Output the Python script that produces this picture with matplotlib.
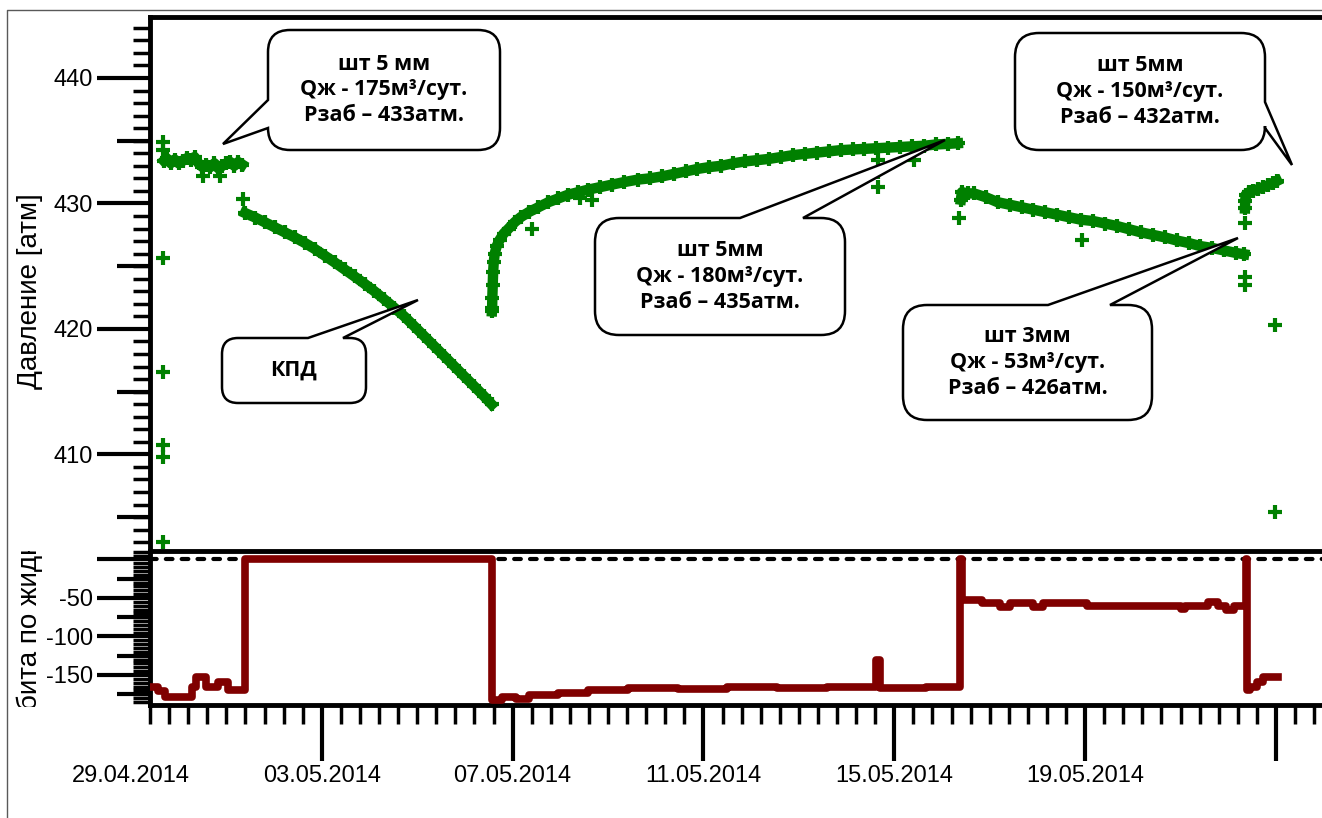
import numpy as np
import matplotlib
matplotlib.use("Agg")
import matplotlib.pyplot as plt
import matplotlib.dates as mdates
import matplotlib.ticker as mticker
import matplotlib.transforms as mtransforms
from matplotlib.path import Path
from matplotlib.patches import PathPatch
from datetime import datetime

plt.rcParams['font.family'] = ['Liberation Sans', 'DejaVu Sans']

# --- данные: время в часах от 29.04.2014 00:00 ---
flow1_h = [16.6, 18, 20, 22, 24, 26, 28, 30, 32, 34, 36, 38, 40, 42, 44, 46, 48, 50, 52, 54, 56]
flow1_p = [433.4, 433.6, 433.2, 433.5, 433.2, 433.4, 433.6, 433.5, 433.7, 433.2, 432.9,
           433.1, 432.9, 433.2, 432.8, 433.0, 433.2, 433.3, 433.0, 433.3, 433.1]

fall_h = [57.4, 62.5, 67.5, 72.5, 77.5, 82.5, 87.5, 92.5, 97.5, 102.5, 107.5, 112.5, 117.5,
          122.5, 127.5, 132.5, 137.5, 142.5, 147.5, 152.5, 157.5, 162.5, 167.5, 172.5, 177.5, 181.5]
fall_p = [429.24, 428.88, 428.49, 428.09, 427.69, 427.29, 426.85, 426.37, 425.84, 425.30,
          424.74, 424.18, 423.60, 423.00, 422.35, 421.69, 421.00, 420.22, 419.43, 418.64,
          417.85, 417.05, 416.25, 415.46, 414.66, 413.98]

kvd_h = [181.6, 181.7, 181.8, 182.0, 182.2, 182.5, 183.0, 184.0, 185.5, 187.5,
         190, 193, 196, 200, 205, 210, 215, 220, 225, 230,
         236, 242, 248, 255, 261, 267, 273, 279, 285, 291,
         297, 303, 309, 315, 321, 327, 333, 339, 345, 351,
         357, 363, 369, 375, 381, 387, 393, 399, 405, 411, 416]
kvd_p = [421.4, 421.7, 422.5, 423.5, 424.5, 425.3, 426.0, 426.6, 427.1, 427.6,
         428.0, 428.5, 428.9, 429.3, 429.7, 430.1, 430.4, 430.7, 430.9, 431.1,
         431.3, 431.5, 431.7, 431.9, 432.0, 432.15, 432.35, 432.55, 432.75, 432.9,
         433.0, 433.2, 433.35, 433.45, 433.55, 433.7, 433.85, 433.95, 434.05, 434.15,
         434.25, 434.3, 434.35, 434.4, 434.45, 434.5, 434.55, 434.6, 434.7, 434.75, 434.8]

flow2_h = [417.5, 418, 421, 424, 430, 436, 442, 448, 454, 460, 466, 472, 478, 484,
           490, 496, 502, 508, 514, 520, 526, 532, 538, 544, 550, 556, 560]
flow2_p = [430.3, 430.9, 430.8, 430.8, 430.5, 430.1, 429.9, 429.7, 429.5, 429.3, 429.1,
           428.9, 428.7, 428.6, 428.4, 428.2, 427.95, 427.7, 427.5, 427.3, 427.05, 426.85,
           426.6, 426.45, 426.25, 426.05, 425.95]

flow3_h = [560.4, 560.5, 560.8, 562.5, 564.5, 567, 569.5, 572, 574.5, 576.5]
flow3_p = [429.6, 430.2, 430.7, 430.9, 431.0, 431.15, 431.3, 431.45, 431.65, 431.8]

spike_h = [16.0, 16.0, 16.0, 16.0, 16.0, 16.0, 16.0, 36.3, 44.8, 56.2, 201.6, 226, 231.9,
           375.8, 375.8, 375.8, 393.7, 416.7, 478.3, 560.6, 560.6, 560.6, 575.5, 575.5]
spike_p = [402.98, 409.78, 410.76, 416.55, 425.63, 434.92, 434.26, 432.2, 432.2, 430.33,
           428.0, 430.4, 430.3, 433.5, 432.5, 431.3, 433.5, 428.85, 427.1, 423.5, 424.1,
           428.45, 420.3, 405.4]

rate_h = [9.6, 13.4, 17.2, 30.7, 32.7, 38.0, 44.0, 49.0, 57.4,
          181.5, 186.8, 193.5, 200, 215, 230, 250, 275, 300, 325,
          350, 375, 377, 400, 416.8, 418.0, 428, 437.2, 442.2, 454,
          459, 481, 528, 530, 542, 547, 551, 555, 560.9, 561.4,
          562.9, 566.2, 569.4, 577]
rate_v = [-166, -171, -179, -165, -152, -165, -159, -169, 0,
          -182, -178, -181, -176, -173, -170, -167, -168, -166, -167,
          -166, -130, -167, -166, 0, -53, -57, -62, -57, -62,
          -57, -61, -64, -61, -55, -61, -65, -61, 0, -169,
          -165, -159, -152, -152]

date_ticks = ['2014-04-29', '2014-05-03', '2014-05-07', '2014-05-11',
              '2014-05-15', '2014-05-19', '2014-05-23']
date_labels = ['29.04.2014', '03.05.2014', '07.05.2014', '11.05.2014',
               '15.05.2014', '19.05.2014', '']

notes = [
    "шт 5 мм\nQж - 175м³/сут.\nРзаб – 433атм.",
    "КПД",
    "шт 5мм\nQж - 180м³/сут.\nРзаб – 435атм.",
    "шт 3мм\nQж - 53м³/сут.\nРзаб – 426атм.",
    "шт 5мм\nQж - 150м³/сут.\nРзаб – 432атм.",
]

d0 = mdates.date2num(datetime(2014, 4, 29))


def hx(h):
    return d0 + np.asarray(h, dtype=float) / 24.0


W, H = 1322, 818
fig = plt.figure(figsize=(W / 100, H / 100), dpi=100)


def px_axes(l, t, r, b):
    return fig.add_axes([l / W, 1 - b / H, (r - l) / W, (b - t) / H])


ax1 = px_axes(150, 17, 1340, 551)
ax2 = px_axes(150, 551, 1340, 705)
ax2.patch.set_visible(False)

green = '#008000'
mk = dict(marker='+', ms=10, mew=3, color=green)
for hh, pp in [(flow1_h, flow1_p), (fall_h, fall_p), (kvd_h, kvd_p),
               (flow2_h, flow2_p), (flow3_h, flow3_p)]:
    ax1.plot(hx(hh), pp, lw=7.5, **mk)
ax1.plot(hx(spike_h), spike_p, ls='none', **mk)

ax2.axhline(0, color='black', lw=3, ls=(0, (1.6, 2.2)), dash_capstyle='round', zorder=1)
ax2.plot(hx(rate_h), rate_v, drawstyle='steps-post', color='#800000', lw=5.5, zorder=3)

xlim = (hx(9.6), hx(608.2))
for ax in (ax1, ax2):
    ax.set_xlim(*xlim)
    ax.spines['right'].set_visible(False)
    for s in ('left', 'bottom', 'top'):
        ax.spines[s].set_linewidth(3.5)
ax2.spines['top'].set_visible(False)

# верхняя шкала
ax1.set_ylim(402.3, 444.86)
ax1.yaxis.set_major_locator(mticker.FixedLocator([410, 420, 430, 440]))
ax1.yaxis.set_minor_locator(mticker.MultipleLocator(1))
ax1.tick_params(axis='y', which='major', length=38, width=3, labelsize=17, pad=3)
ax1.tick_params(axis='y', which='minor', length=12, width=2.5)
ax1.tick_params(axis='x', which='both', bottom=False, labelbottom=False)
sec1 = ax1.secondary_yaxis('left')
sec1.set_yticks([405, 415, 425, 435])
sec1.yaxis.set_minor_locator(mticker.NullLocator())
sec1.tick_params(length=24, width=3, labelleft=False)
sec1.spines['left'].set_visible(False)
ax1.set_ylabel('Давление [атм]', fontsize=20)
ax1.yaxis.set_label_coords(-0.0899, 0.487)

# нижняя шкала
ax2.set_ylim(-189, 11)
ax2.set_yticks([-150, -100, -50, 0], ['-150', '-100', '-50', ''])
ax2.yaxis.set_minor_locator(mticker.MultipleLocator(5))
ax2.tick_params(axis='y', which='major', length=38, width=3, labelsize=17, pad=3)
ax2.tick_params(axis='y', which='minor', length=12, width=2.5)
sec2 = ax2.secondary_yaxis('left')
sec2.set_yticks([-175, -125, -75, -25])
sec2.yaxis.set_minor_locator(mticker.NullLocator())
sec2.tick_params(length=24, width=3, labelleft=False)
sec2.spines['left'].set_visible(False)
ax2.set_ylabel('Дебита по жидкости', fontsize=20, ha='left')
ax2.yaxis.set_label_coords(-0.0899, -0.255)
clip = mtransforms.TransformedBbox(mtransforms.Bbox.from_extents(-0.2, -0.01, 1.0, 1.0), ax2.transAxes)
ax2.yaxis.label.set_clip_box(clip)
ax2.yaxis.label.set_clip_on(True)

# ось времени
major_x = mdates.datestr2num(date_ticks)
ax2.xaxis.set_major_locator(mticker.FixedLocator(major_x))
ax2.xaxis.set_minor_locator(mticker.FixedLocator(major_x[0] + np.arange(0, 26, 0.4)))
ax2.xaxis.set_major_formatter(mticker.FixedFormatter(date_labels))
ax2.tick_params(axis='x', which='major', length=40, width=3, labelsize=17, pad=3)
ax2.tick_params(axis='x', which='minor', length=14, width=2.5)
# первая подпись стоит левее начала оси
lab_tr = mtransforms.offset_copy(ax2.get_xaxis_transform(), fig=fig, y=-43, units='points')
ax2.text(major_x[0], 0, date_labels[0], transform=lab_tr, ha='center', va='top', fontsize=17)

# выноски
ov = fig.add_axes([0, 0, 1, 1], zorder=5)
ov.set_xlim(0, W)
ov.set_ylim(H, 0)
ov.axis('off')
ov.plot([7, 7, W + 5], [H + 5, 10, 10], color='0.35', lw=1)


def callout(x0, y0, x1, y1, r, side, b1, b2, tip):
    v, c = [], []

    def ln(p):
        v.append(p)
        c.append(Path.LINETO)

    def cv(cp, p):
        v.extend([cp, p])
        c.extend([Path.CURVE3, Path.CURVE3])

    v.append((x0 + r, y0))
    c.append(Path.MOVETO)
    if side == 'top':
        ln((b1, y0)); ln(tip); ln((b2, y0))
    ln((x1 - r, y0)); cv((x1, y0), (x1, y0 + r))
    if side == 'right':
        ln((x1, b1)); ln(tip); ln((x1, b2))
    ln((x1, y1 - r)); cv((x1, y1), (x1 - r, y1))
    ln((x0 + r, y1)); cv((x0, y1), (x0, y1 - r))
    if side == 'left':
        ln((x0, b2)); ln(tip); ln((x0, b1))
    ln((x0, y0 + r)); cv((x0, y0), (x0 + r, y0))
    v.append((0, 0))
    c.append(Path.CLOSEPOLY)
    ov.add_patch(PathPatch(Path(v, c), fc='white', ec='black', lw=1.8))


boxes = [
    (268, 30, 500, 150, 22, 'left', 100, 128, (223, 144)),
    (222, 338, 366, 403, 16, 'top', 308, 343, (418, 300)),
    (595, 218, 845, 335, 24, 'top', 740, 803, (945, 140)),
    (903, 305, 1152, 420, 24, 'top', 1048, 1110, (1238, 238)),
    (1015, 33, 1265, 150, 24, 'right', 102, 128, (1292, 165)),
]
for (x0, y0, x1, y1, r, side, b1, b2, tip), txt in zip(boxes, notes):
    callout(x0, y0, x1, y1, r, side, b1, b2, tip)
    ov.text((x0 + x1) / 2, (y0 + y1) / 2, txt, ha='center', va='center',
            fontsize=15.5, fontweight='bold', family=['Open Sans', 'DejaVu Sans'],
            linespacing=1.3)

fig.savefig('out.png', dpi=100)
